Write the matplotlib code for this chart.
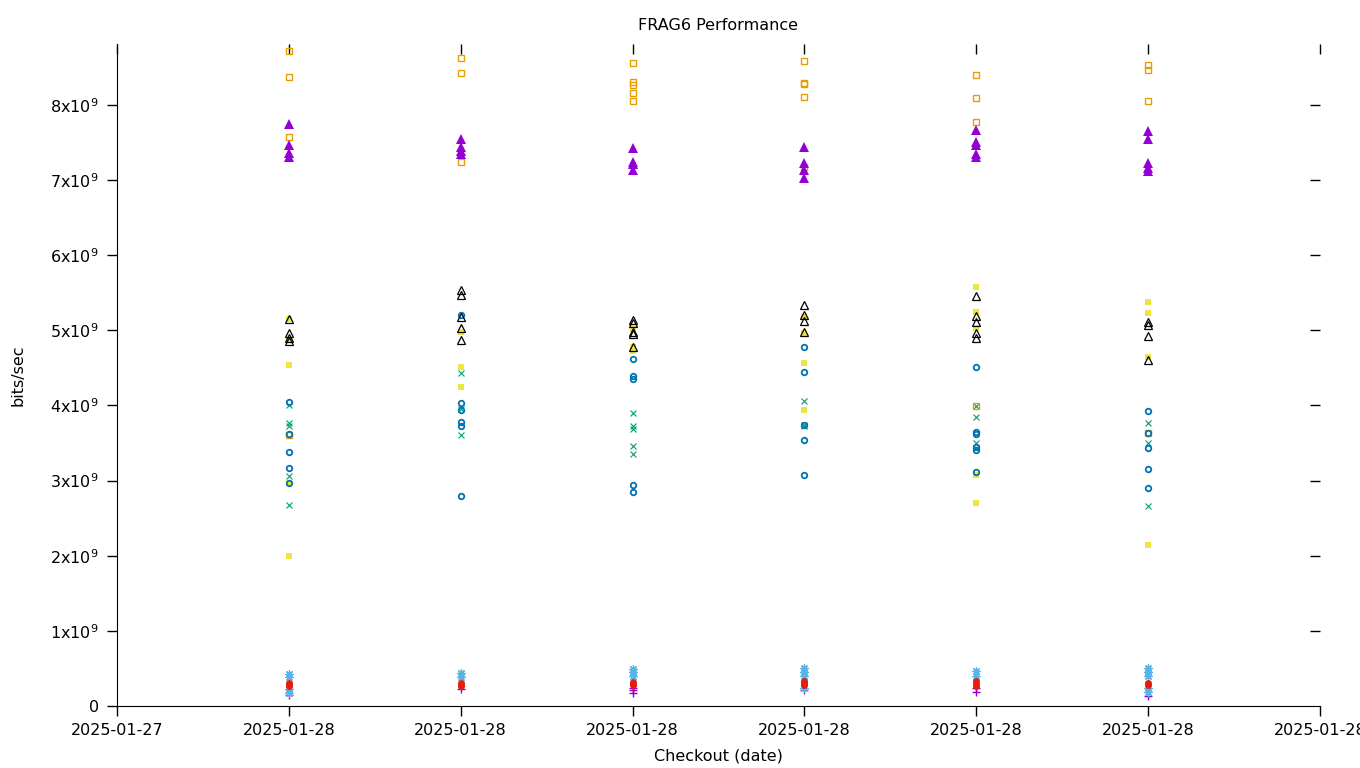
import matplotlib
matplotlib.use("Agg")
import matplotlib.pyplot as plt

# x: run positions (columns) and tick labels
x_ticks = [0, 1, 2, 3, 4, 5, 6, 7]
x_ticklabels = ["2025-01-27", "2025-01-28", "2025-01-28", "2025-01-28",
                "2025-01-28", "2025-01-28", "2025-01-28", "2025-01-28"]
runs = [1, 2, 3, 4, 5, 6]

y_ticks = [0, 1, 2, 3, 4, 5, 6, 7, 8]  # in units of 1e9
y_ticklabels = ["0"] + [r"%dx10$^{9}$" % v for v in range(1, 9)]

# values per run (units of 1e9 bits/sec)
purple_plus = [[0.14], [0.23], [0.24, 0.21, 0.17], [0.21], [0.24, 0.18], [0.13]]
green_x = [[4.00, 3.77, 3.72, 3.06, 2.67], [4.43, 3.95, 3.60],
           [3.90, 3.72, 3.68, 3.46, 3.36], [4.06, 3.74, 3.72],
           [3.99, 3.85, 3.50, 3.43], [3.77, 3.50, 2.66]]
sky_star = [[0.43, 0.39, 0.22, 0.17], [0.44, 0.38], [0.49, 0.45, 0.40],
            [0.50, 0.45, 0.40, 0.24], [0.46, 0.40], [0.50, 0.45, 0.40, 0.24, 0.18]]
orange_sq = [[8.72, 8.37, 7.57, 3.61], [8.62, 8.43, 7.24],
             [8.56, 8.31, 8.27, 8.16, 8.05], [8.59, 8.29, 8.28, 8.11, 7.17],
             [8.40, 8.09, 7.77, 3.99], [8.53, 8.47, 8.05, 3.63]]
yellow_sq = [[5.15, 4.87, 4.54, 2.97, 1.99], [4.98, 4.51, 4.25],
             [5.02, 4.78, 4.72], [5.18, 4.96, 4.56, 3.94],
             [5.57, 5.25, 5.03, 3.08, 2.70], [5.38, 5.23, 4.65, 2.14]]
blue_circ = [[4.05, 3.62, 3.38, 3.17, 2.97], [5.20, 4.03, 3.94, 3.78, 3.72, 2.80],
             [4.62, 4.39, 4.35, 2.94, 2.85], [4.78, 4.45, 3.74, 3.54, 3.08],
             [4.51, 3.65, 3.62, 3.45, 3.41, 3.12], [3.93, 3.63, 3.43, 3.16, 2.90]]
red_circ = [[0.31, 0.29, 0.27], [0.30, 0.28, 0.27], [0.32, 0.29, 0.28],
            [0.33, 0.30, 0.28], [0.33, 0.29, 0.27], [0.31, 0.28]]
black_tri = [[5.15, 4.96, 4.90, 4.86], [5.54, 5.47, 5.18, 5.03, 4.87],
             [5.14, 5.10, 4.98, 4.95, 4.78], [5.33, 5.21, 5.13, 4.98],
             [5.45, 5.19, 5.11, 4.97, 4.90], [5.11, 5.07, 4.93, 4.61]]
purple_tri = [[7.74, 7.46, 7.36, 7.30], [7.55, 7.44, 7.38, 7.34],
              [7.43, 7.24, 7.21, 7.13], [7.44, 7.23, 7.13, 7.03],
              [7.67, 7.51, 7.47, 7.34, 7.30], [7.65, 7.55, 7.23, 7.16, 7.12]]

series = [
    (purple_plus, dict(marker="+", color="#9400d3", ms=6, mew=1.0)),
    (green_x, dict(marker="x", color="#009e73", ms=5, mew=0.8)),
    (sky_star, dict(marker=(8, 2, 0), color="#56b4e9", ms=6, mew=0.9)),
    (orange_sq, dict(marker="s", mfc="none", mec="#e69f00", ms=5, mew=1.0)),
    (yellow_sq, dict(marker="s", color="#f0e442", ms=5, mew=0)),
    (blue_circ, dict(marker="o", mfc="none", mec="#0072b2", ms=4, mew=1.3)),
    (red_circ, dict(marker="o", color="#e51e10", ms=5, mew=0)),
    (black_tri, dict(marker="^", mfc="none", mec="black", ms=6, mew=0.9)),
    (purple_tri, dict(marker="^", color="#9400d3", ms=6.5, mew=0)),
]

fig = plt.figure(figsize=(13.6, 7.68), dpi=100)
ax = fig.add_axes([117 / 1360, 62 / 768, (1320 - 117) / 1360, (706 - 44) / 768])

for data, style in series:
    xs, ys = [], []
    for r, vals in zip(runs, data):
        for v in vals:
            xs.append(r)
            ys.append(v * 1e9)
    ax.plot(xs, ys, linestyle="none", clip_on=False, **style)

ax.set_xlim(0, 7)
ax.set_ylim(0, 8.81e9)
ax.set_xticks(x_ticks)
ax.set_xticklabels(x_ticklabels, fontsize=11.5)
ax.set_yticks([v * 1e9 for v in y_ticks])
ax.set_yticklabels(y_ticklabels, fontsize=11.5)
ax.tick_params(axis="x", direction="out", length=7, width=1, pad=5)
ax.tick_params(axis="y", direction="out", length=7, width=1, pad=6)
ax.spines["top"].set_visible(False)
ax.spines["right"].set_visible(False)

secx = ax.secondary_xaxis("top")
secx.set_xticks(x_ticks)
secx.set_xticklabels([])
secx.tick_params(direction="in", length=7, width=1)
secx.spines["top"].set_visible(False)

secy = ax.secondary_yaxis("right")
secy.set_yticks([v * 1e9 for v in y_ticks[1:]])
secy.set_yticklabels([])
secy.tick_params(direction="in", length=7, width=1)
secy.spines["right"].set_visible(False)

ax.set_title("FRAG6 Performance", fontsize=11.5, pad=10)
ax.set_xlabel("Checkout (date)", fontsize=11.5, labelpad=8)
ax.set_ylabel("bits/sec", fontsize=11.5, labelpad=18)

fig.savefig("out.png", dpi=100)
